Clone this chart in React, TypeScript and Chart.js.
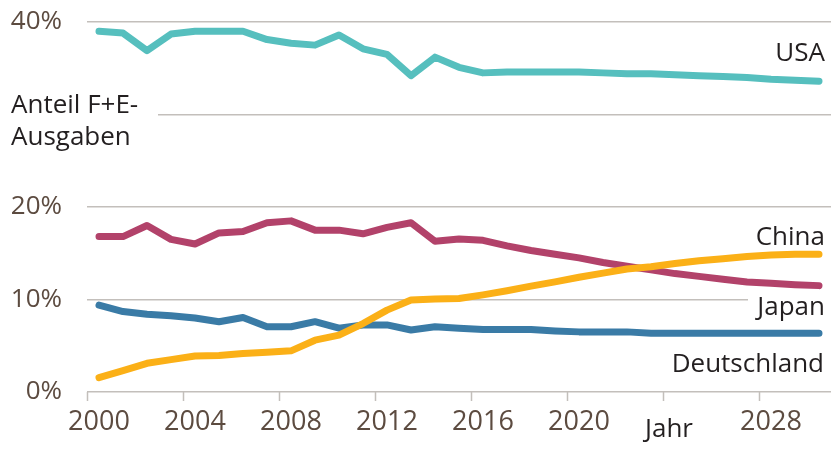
import { useEffect, useRef } from "react";
import { Chart, registerables } from "chart.js";

Chart.register(...registerables);

const years = [
  2000, 2001, 2002, 2003, 2004, 2005, 2006, 2007, 2008, 2009, 2010,
  2011, 2012, 2013, 2014, 2015, 2016, 2017, 2018, 2019, 2020,
  2021, 2022, 2023, 2024, 2025, 2026, 2027, 2028, 2029, 2030,
];

const usa = [
  39.0, 38.8, 36.9, 38.7, 39.0, 39.0, 39.0, 38.1, 37.7, 37.5, 38.6,
  37.1, 36.5, 34.2, 36.2, 35.1, 34.5, 34.6, 34.6, 34.6, 34.6,
  34.5, 34.4, 34.4, 34.3, 34.2, 34.1, 34.0, 33.8, 33.7, 33.6,
];

const china = [
  1.55, 2.3, 3.1, 3.5, 3.9, 3.95, 4.15, 4.3, 4.45, 5.6, 6.15,
  7.4, 8.85, 9.95, 10.05, 10.1, 10.5, 10.95, 11.45, 11.9, 12.4,
  12.85, 13.3, 13.55, 13.9, 14.2, 14.4, 14.65, 14.8, 14.9, 14.9,
];

const japan = [
  16.8, 16.8, 18.0, 16.5, 16.0, 17.2, 17.35, 18.3, 18.5, 17.5, 17.5,
  17.1, 17.8, 18.3, 16.3, 16.55, 16.4, 15.8, 15.3, 14.9, 14.5,
  14.0, 13.6, 13.2, 12.8, 12.5, 12.2, 11.9, 11.75, 11.6, 11.5,
];

const deutschland = [
  9.4, 8.7, 8.4, 8.25, 8.0, 7.6, 8.05, 7.05, 7.05, 7.6, 6.9,
  7.25, 7.25, 6.7, 7.05, 6.9, 6.75, 6.75, 6.75, 6.6, 6.5,
  6.5, 6.5, 6.35, 6.35, 6.35, 6.35, 6.35, 6.35, 6.35, 6.35,
];

const xTickYears = [2000, 2004, 2008, 2012, 2016, 2020, 2024, 2028];
const yTickValues = [0, 10, 20, 30, 40];
const seriesLabels = ["USA", "China", "Japan", "Deutschland"];
const axisTitleY = ["Anteil F+E-", "Ausgaben"];
const axisTitleX = "Jahr";

const FONT = "'Open Sans', 'Noto Sans', sans-serif";
const TICK_COLOR = "#5c4b40";
const TEXT_COLOR = "#231f20";
const GRID_COLOR = "#c3bfbb";

const COLORS = {
  usa: "#56bfbe",
  china: "#fbb017",
  japan: "#b2426a",
  deutschland: "#3a7ba6",
};

export default function App() {
  const canvasRef = useRef<HTMLCanvasElement | null>(null);

  useEffect(() => {
    const canvas = canvasRef.current;
    if (!canvas) return;

    const toPoints = (vals: number[]) =>
      vals.map((v, i) => ({ x: years[i] + 0.5, y: v }));

    const mk = (label: string, vals: number[], color: string) => ({
      label,
      data: toPoints(vals),
      borderColor: color,
      backgroundColor: color,
      borderWidth: 7,
      pointRadius: 0,
      borderCapStyle: "round" as const,
      borderJoinStyle: "round" as const,
      tension: 0,
      fill: false,
    });

    const gapPlugin = {
      id: "gaps",
      beforeDatasetsDraw(chart: any) {
        const { ctx, scales, chartArea } = chart;
        const y30 = scales.y.getPixelForValue(30);
        const y10 = scales.y.getPixelForValue(10);
        ctx.save();
        ctx.fillStyle = "#ffffff";
        ctx.fillRect(chartArea.left - 2, y30 - 3, 160 - chartArea.left, 6);
        ctx.fillRect(748, y10 - 3, chartArea.right - 748 + 4, 6);
        ctx.restore();
      },
      afterDatasetsDraw(chart: any) {
        const { ctx } = chart;
        ctx.save();
        ctx.fillStyle = TEXT_COLOR;
        ctx.font = `26px ${FONT}`;
        ctx.textBaseline = "alphabetic";
        ctx.textAlign = "right";
        ctx.fillText(seriesLabels[0], 825, 61);
        ctx.fillText(seriesLabels[1], 825, 245);
        ctx.fillText(seriesLabels[2], 825, 315);
        ctx.fillText(seriesLabels[3], 824, 372);
        ctx.textAlign = "left";
        ctx.fillText(axisTitleY[0], 11, 113);
        ctx.fillText(axisTitleY[1], 11, 145);
        ctx.textAlign = "center";
        ctx.fillText(axisTitleX, 669, 437);
        ctx.restore();
      },
    };

    const chart = new Chart(canvas, {
      type: "line",
      data: {
        datasets: [
          mk(seriesLabels[0], usa, COLORS.usa),
          mk(seriesLabels[1], china, COLORS.china),
          mk(seriesLabels[2], japan, COLORS.japan),
          mk(seriesLabels[3], deutschland, COLORS.deutschland),
        ],
      },
      options: {
        animation: false,
        responsive: false,
        maintainAspectRatio: false,
        devicePixelRatio: 1,
        layout: { padding: { left: 0, right: 6, top: 22, bottom: 0 } },
        plugins: {
          legend: { display: false },
          tooltip: { enabled: false },
        },
        scales: {
          x: {
            type: "linear",
            min: 2000,
            max: 2031,
            afterBuildTicks: (axis: any) => {
              axis.ticks = xTickYears.map((v) => ({ value: v }));
            },
            afterFit: (scale: any) => {
              scale.height = 59;
              scale.paddingLeft = 0;
              scale.paddingRight = 0;
            },
            border: { display: false },
            grid: {
              drawOnChartArea: false,
              drawTicks: true,
              tickLength: 9,
              tickWidth: 1.5,
              tickColor: GRID_COLOR,
            },
            ticks: {
              autoSkip: false,
              maxRotation: 0,
              labelOffset: 12,
              padding: 5,
              color: TICK_COLOR,
              font: { family: FONT, size: 27 },
              callback: (v: any) => (Number(v) === 2024 ? "" : String(v)),
            },
          },
          y: {
            type: "linear",
            min: 0,
            max: 40,
            afterBuildTicks: (axis: any) => {
              axis.ticks = yTickValues.map((v) => ({ value: v }));
            },
            afterFit: (scale: any) => {
              scale.width = 87;
              scale.paddingTop = 0;
              scale.paddingBottom = 0;
            },
            border: { display: false },
            grid: {
              color: GRID_COLOR,
              lineWidth: 1.5,
              drawTicks: false,
            },
            ticks: {
              padding: 25,
              color: TICK_COLOR,
              font: { family: FONT, size: 26 },
              callback: (v: any) => (Number(v) === 30 ? "" : `${v}%`),
            },
          },
        },
      },
      plugins: [gapPlugin],
    });

    return () => chart.destroy();
  }, []);

  return (
    <div style={{ position: "fixed", left: 0, top: 0, width: 837, height: 451, background: "#fff" }}>
      <canvas ref={canvasRef} width={837} height={451} style={{ width: 837, height: 451, display: "block" }} />
    </div>
  );
}
